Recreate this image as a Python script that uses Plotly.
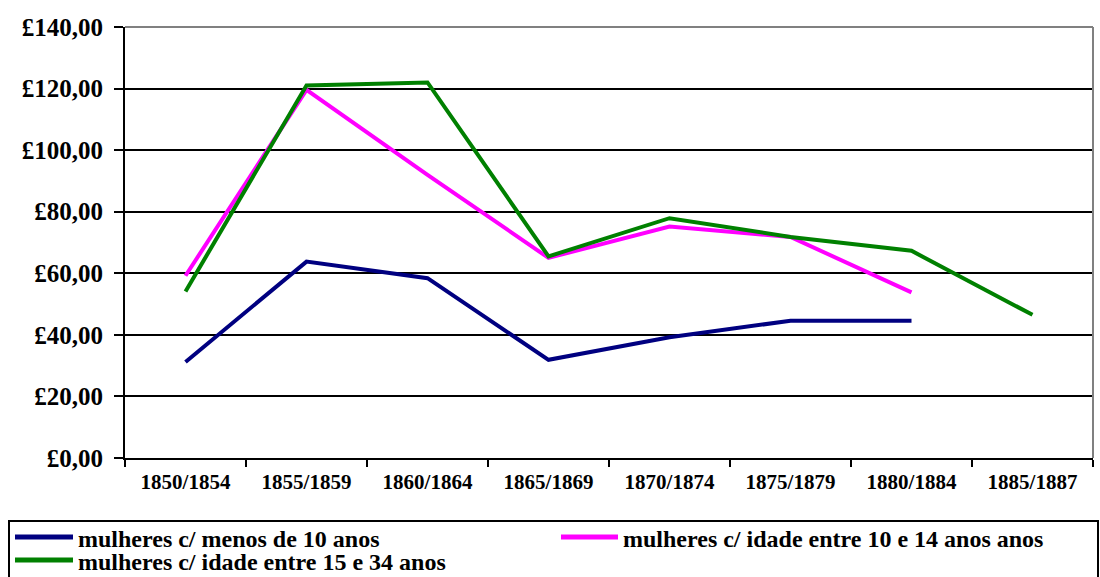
import plotly.graph_objects as go

categories = ["1850/1854", "1855/1859", "1860/1864", "1865/1869",
              "1870/1874", "1875/1879", "1880/1884", "1885/1887"]
menos_10 = [31.2, 63.8, 58.4, 31.9, 39.2, 44.6, 44.6, None]
entre_10_14 = [59.2, 119.6, 92.0, 65.0, 75.2, 71.8, 53.8, None]
entre_15_34 = [54.1, 121.0, 122.0, 65.5, 77.9, 71.8, 67.3, 46.5]
series_names = ["mulheres c/ menos de 10 anos",
                "mulheres c/ idade entre 10 e 14 anos anos",
                "mulheres c/ idade entre 15 e 34 anos"]
series_colors = ["#000080", "#FF00FF", "#008000"]
y_ticks = [0, 20, 40, 60, 80, 100, 120, 140]
y_tick_labels = ["£0,00", "£20,00", "£40,00", "£60,00", "£80,00",
                 "£100,00", "£120,00", "£140,00"]

FONT = "Liberation Serif, Times New Roman, serif"
W, H = 1100, 577
ML, MR, MT, MB = 125, 7, 27, 119
PW, PH = W - ML - MR, H - MT - MB


def px_x(x):
    return (x - ML) / PW


def px_y(y):
    return (H - MB - y) / PH


fig = go.Figure()
for name, vals, col in zip(series_names, [menos_10, entre_10_14, entre_15_34], series_colors):
    fig.add_trace(go.Scatter(x=categories, y=vals, mode="lines", name=name,
                             line=dict(color=col, width=4), connectgaps=False,
                             showlegend=False))

# legend drawn as shapes + text (positions in pixels: symbol x0, x1, row y)
legend_slots = [(15, 73, 537), (561, 618, 537), (15, 73, 560)]
shapes = [
    dict(type="line", xref="x domain", yref="y domain", x0=0, x1=1, y0=1, y1=1,
         line=dict(color="#808080", width=2)),
    dict(type="line", xref="x domain", yref="y domain", x0=1, x1=1, y0=0, y1=1,
         line=dict(color="#808080", width=2)),
    dict(type="rect", xref="paper", yref="paper",
         x0=px_x(9), x1=px_x(1098), y0=px_y(521), y1=px_y(600),
         line=dict(color="black", width=2), fillcolor="rgba(0,0,0,0)"),
]
annotations = []
for (sx0, sx1, sy), name, col in zip(legend_slots, series_names, series_colors):
    shapes.append(dict(type="line", xref="paper", yref="paper",
                       x0=px_x(sx0), x1=px_x(sx1), y0=px_y(sy), y1=px_y(sy),
                       line=dict(color=col, width=5)))
    annotations.append(dict(xref="paper", yref="paper", x=px_x(sx1 + 4), y=px_y(sy + 2),
                            xanchor="left", yanchor="middle", showarrow=False,
                            text=name, borderpad=0,
                            font=dict(family=FONT, size=24, color="black", weight="bold")))

fig.update_layout(
    width=W, height=H,
    paper_bgcolor="white", plot_bgcolor="white",
    margin=dict(l=ML, r=MR, t=MT, b=MB, autoexpand=False),
    font=dict(family=FONT, color="black", weight="bold"),
    showlegend=False,
    xaxis=dict(type="category", range=[-0.5, 7.5], showline=True,
               linecolor="black", linewidth=2, ticks="outside",
               tickcolor="black", tickwidth=2, ticklen=7, ticklabelstandoff=4,
               tickson="boundaries", showgrid=False,
               tickfont=dict(family=FONT, size=21, color="black", weight="bold")),
    yaxis=dict(range=[0, 140], tickvals=y_ticks, ticktext=y_tick_labels,
               showline=True, linecolor="black", linewidth=2,
               ticks="outside", tickcolor="black", tickwidth=2, ticklen=9,
               ticklabelstandoff=6,
               showgrid=True, gridcolor="black", gridwidth=2,
               zeroline=False,
               tickfont=dict(family=FONT, size=25, color="black", weight="bold")),
    shapes=shapes,
    annotations=annotations,
)
fig.write_html("out.html", config={"displayModeBar": False},
               post_script="document.body.style.margin='0';")
